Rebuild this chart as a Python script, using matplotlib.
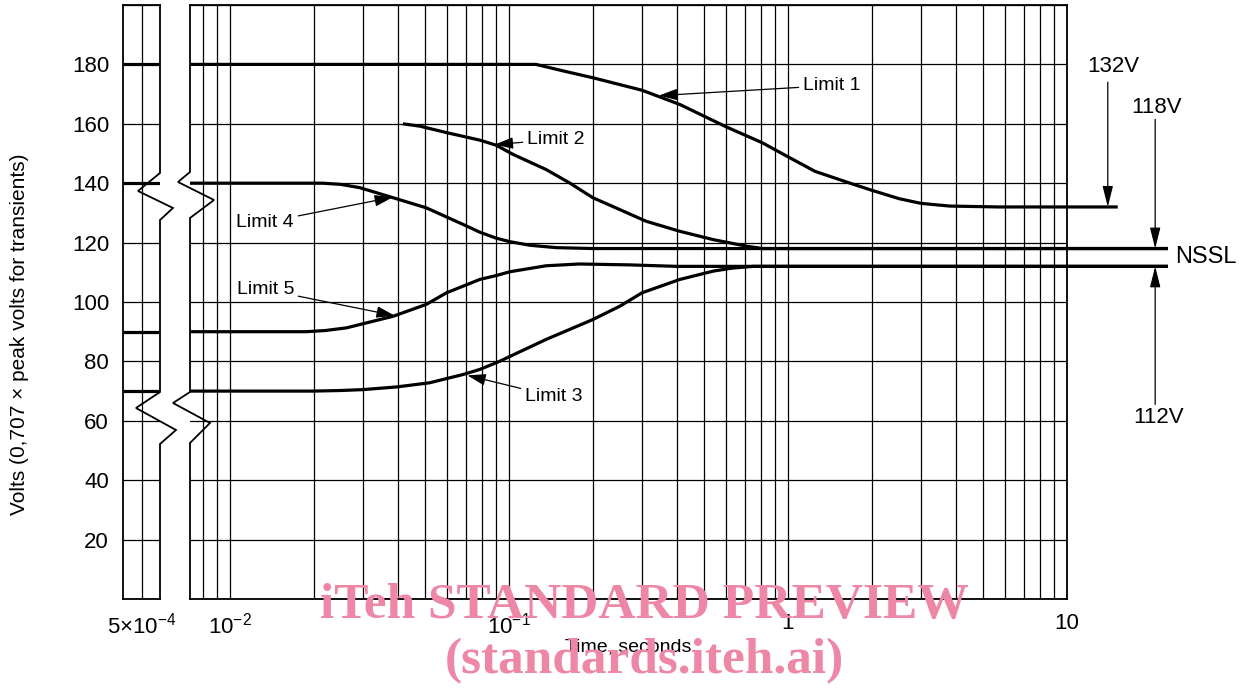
import matplotlib.pyplot as plt
from matplotlib.lines import Line2D
from matplotlib.ticker import FixedLocator, LogLocator, NullFormatter

plt.rcParams['font.family'] = ['Liberation Sans', 'DejaVu Sans']
plt.rcParams['mathtext.fontset'] = 'custom'
plt.rcParams['mathtext.rm'] = 'Liberation Sans'
plt.rcParams['mathtext.it'] = 'Liberation Sans:italic'
plt.rcParams['mathtext.bf'] = 'Liberation Sans:bold'

# ---------------- data ----------------
volt_ticks = [20, 40, 60, 80, 100, 120, 140, 160, 180]
volt_grid = [0, 20, 40, 60, 80, 100, 120, 140, 160, 180, 200]
time_ticks = [0.01, 0.1, 1, 10]
time_labels = [r'$10^{-2}$', r'$10^{-1}$', '1', '10']
t_min, t_max = 0.0072, 10

# Limit 1 (settles at 132 V)
limit1_t = [0.0072, 0.125, 0.16, 0.2, 0.3, 0.41, 0.6, 0.81, 1.0, 1.25, 1.67,
            2.0, 2.5, 3.0, 3.8, 5.7, 15.2]
limit1_v = [180, 180, 177.6, 175.5, 171.3, 166.5, 159, 153.6, 148.9, 144, 140,
            137.6, 134.8, 133.2, 132.3, 132, 132]

# Limit 2 (settles at 118 V)
limit2_t = [0.0417, 0.048, 0.06, 0.0787, 0.09, 0.1035, 0.136, 0.165, 0.2,
            0.25, 0.31, 0.41, 0.54, 0.71, 0.81, 23]
limit2_v = [160, 159.2, 157, 154.5, 152.8, 149.7, 144.6, 140.1, 135.1,
            131.1, 127.2, 123.8, 121, 118.8, 118, 118]

# Limit 4 (settles at 118 V)
limit4_t = [0.0072, 0.0215, 0.025, 0.0292, 0.0385, 0.0506, 0.0686, 0.0787,
            0.09, 0.101, 0.119, 0.148, 0.2, 23]
limit4_v = [140, 140, 139.6, 138.5, 135.1, 131.7, 126.1, 123.5,
            121.5, 120.3, 119.1, 118.3, 118, 118]

# Limit 5 (settles at 112 V with a small overshoot)
limit5_t = [0.0072, 0.0188, 0.022, 0.0262, 0.0385, 0.0506, 0.0598, 0.0787,
            0.09, 0.101, 0.136, 0.179, 0.27, 0.4, 23]
limit5_v = [90, 90, 90.4, 91.3, 95.2, 99.2, 103.1, 107.6,
            108.9, 110.2, 112.2, 112.8, 112.5, 112, 112]

# Limit 3 (settles at 112 V)
limit3_t = [0.0072, 0.0198, 0.025, 0.030, 0.0396, 0.052, 0.0686, 0.0787,
            0.093, 0.101, 0.136, 0.2, 0.25, 0.3, 0.41, 0.54, 0.63, 0.75, 23]
limit3_v = [70, 70, 70.2, 70.5, 71.4, 72.8, 75.6, 77.3,
            80.1, 81.7, 87.4, 94.1, 98.6, 103.1, 107.6, 110.4, 111.4, 112, 112]

# steady-state levels
v_132, v_118, v_112 = 132, 118, 112

# ---------------- figure ----------------
W, H = 1244, 690
fig = plt.figure(figsize=(W / 100, H / 100), dpi=100)


def fx(px):
    return px / W


def fy(py):
    return 1 - py / H


ax_top, ax_bot = 5, 599
ax_l = fig.add_axes([fx(123), fy(ax_bot), fx(160) - fx(123), fy(ax_top) - fy(ax_bot)])
ax = fig.add_axes([fx(190), fy(ax_bot), fx(1067) - fx(190), fy(ax_top) - fy(ax_bot)])

grid_kw = dict(color='black', lw=0.9)
curve_kw = dict(color='black', lw=2.3, solid_capstyle='butt', zorder=3)
spine_lw = 1.3

# ----- short left panel (5x10^-4 s) -----
ax_l.set_xlim(0, 1)
ax_l.set_ylim(0, 200)
ax_l.xaxis.set_major_locator(FixedLocator([0.5]))
ax_l.set_xticklabels([r'$5{\times}10^{-4}$'])
ax_l.yaxis.set_major_locator(FixedLocator(volt_grid))
ax_l.set_yticklabels([str(v) if v in volt_ticks else '' for v in volt_grid])
ax_l.grid(True, **grid_kw)
ax_l.set_axisbelow(True)
ax_l.tick_params(length=0, labelsize=16, pad=10)
ax_l.spines['right'].set_visible(False)
for s in ['left', 'top', 'bottom']:
    ax_l.spines[s].set_linewidth(spine_lw)
for v in [limit1_v[0], limit4_v[0], limit5_v[0], limit3_v[0]]:
    ax_l.axhline(v, **curve_kw)
ax_l.set_ylabel('Volts (0,707 \u00d7 peak volts for transients)', fontsize=15)
ax_l.yaxis.set_label_coords(-2.55, 0.445)

# ----- main log-time panel -----
ax.set_xscale('log')
ax.set_xlim(t_min, t_max)
ax.set_ylim(0, 200)
ax.xaxis.set_major_locator(FixedLocator(time_ticks))
ax.set_xticklabels(time_labels)
ax.xaxis.set_minor_locator(LogLocator(base=10, subs=[2, 3, 4, 5, 6, 7, 8, 9]))
ax.xaxis.set_minor_formatter(NullFormatter())
ax.yaxis.set_major_locator(FixedLocator(volt_grid))
ax.set_yticklabels([])
ax.grid(True, which='both', **grid_kw)
ax.set_axisbelow(True)
ax.tick_params(which='both', length=0, labelsize=16, pad=10)
ax.spines['left'].set_visible(False)
for s in ['right', 'top', 'bottom']:
    ax.spines[s].set_linewidth(spine_lw)

for tt, vv in [(limit1_t, limit1_v), (limit2_t, limit2_v), (limit4_t, limit4_v),
               (limit5_t, limit5_v), (limit3_t, limit3_v)]:
    ax.plot(tt, vv, clip_on=False, **curve_kw)

ax.set_xlabel('Time, seconds', fontsize=14, labelpad=0)

# ----- curve labels with leader arrows -----
lead = dict(arrowstyle='-|>,head_length=0.7,head_width=0.22', color='black',
            lw=0.9, shrinkA=1, shrinkB=0, mutation_scale=16)
ax.annotate('Limit 1', xy=(0.345, 169.5), xytext=(1.13, 172.9), ha='left',
            va='center', fontsize=14, arrowprops=lead)
ax.annotate('Limit 2', xy=(0.089, 153), xytext=(0.116, 154.7), ha='left',
            va='center', fontsize=14, arrowprops=lead)
ax.annotate('Limit 4', xy=(0.0384, 135.3), xytext=(0.0170, 126.8), ha='right',
            va='center', fontsize=14, arrowprops=lead)
ax.annotate('Limit 5', xy=(0.039, 95.4), xytext=(0.0170, 104.2), ha='right',
            va='center', fontsize=14, arrowprops=lead)
ax.annotate('Limit 3', xy=(0.071, 75.3), xytext=(0.114, 68.2), ha='left',
            va='center', fontsize=14, arrowprops=lead)

# ----- steady-state markers on the right -----
vert = dict(arrowstyle='-|>,head_length=0.8,head_width=0.2', color='black',
            lw=0.9, shrinkA=0, shrinkB=0, mutation_scale=16)
ax.annotate('', xy=(14.0, v_132), xytext=(14.0, 174), arrowprops=vert,
            annotation_clip=False)
ax.text(14.6, 179.3, f'{v_132}V', ha='center', va='center', fontsize=16,
        clip_on=False)
ax.annotate('', xy=(20.7, v_118), xytext=(20.7, 161.5), arrowprops=vert,
            annotation_clip=False)
ax.text(21.0, 165.5, f'{v_118}V', ha='center', va='center', fontsize=16,
        clip_on=False)
ax.annotate('', xy=(20.7, v_112), xytext=(20.7, 65.5), arrowprops=vert,
            annotation_clip=False)
ax.text(21.2, 61.1, f'{v_112}V', ha='center', va='center', fontsize=16,
        clip_on=False)
ax.text(24.4, (v_118 + v_112) / 2, 'NSSL', ha='left', va='center', fontsize=17,
        clip_on=False)

# ----- axis break zigzags (figure pixel coordinates) -----
left_edge = [(160, 5), (160, 173), (138, 191), (173, 208), (160, 220),
             (160, 392), (136, 408), (176, 430), (160, 444), (160, 599)]
main_edge = [(190, 5), (190, 172), (178, 182), (214, 200), (190, 218),
             (190, 392), (173, 403), (210, 423), (190, 443), (190, 599)]
for path in (left_edge, main_edge):
    fig.add_artist(Line2D([fx(p[0]) for p in path], [fy(p[1]) for p in path],
                          color='black', lw=spine_lw, solid_joinstyle='miter'))

# ----- preview stamp -----
stamp = dict(color='#ee86a6', fontsize=37, fontweight='bold', ha='center',
             va='center', family=['Liberation Serif', 'DejaVu Serif'], zorder=10)
fig.text(fx(644), fy(606), 'iTeh STANDARD PREVIEW', **stamp)
fig.text(fx(644), fy(661), '(standards.iteh.ai)', **stamp)

fig.savefig('out.png', dpi=100)
